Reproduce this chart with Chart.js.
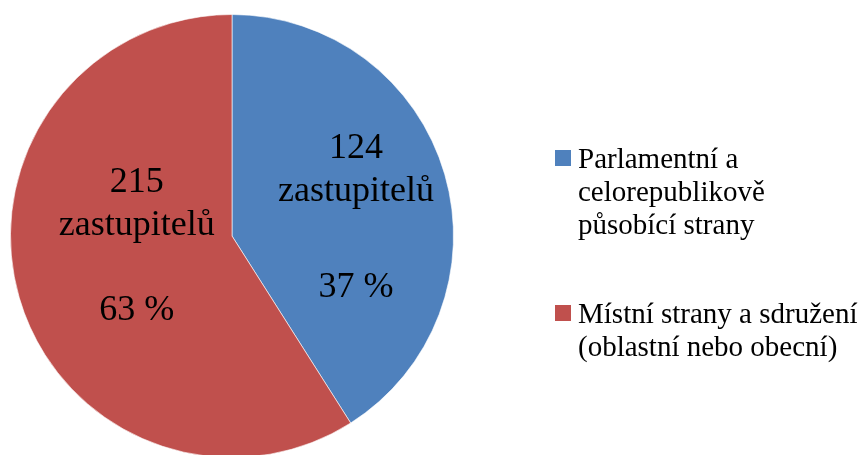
<!DOCTYPE html>
<html>
<head>
<meta charset="utf-8">
<script src="https://cdn.jsdelivr.net/npm/chart.js@4/dist/chart.umd.min.js"></script>
<style>
  html, body { margin: 0; padding: 0; background: #fff; overflow: hidden; }
  #wrap { position: relative; width: 862px; height: 462px; }
</style>
</head>
<body>
<div id="wrap"><canvas id="chart"></canvas></div>
<script>
// legend labels (one entry per slice, split into lines)
const categories = [
  ['Parlamentní a', 'celorepublikově', 'působící strany'],
  ['Místní strany a sdružení', '(oblastní nebo obecní)'],
];
// slice sizes as drawn in the picture (share of the circle, %)
const sliceShares = [41, 59];
// numbers printed inside the slices
const seatCounts = [124, 215];
const percentLabels = ['37 %', '63 %'];
const colors = ['#4F81BD', '#C0504D'];

const FONT = '"Liberation Serif", "Times New Roman", serif';

// text inside the slices; offsets as fractions of the radius from the centre
const sliceLabelLayout = [
  { fx: 0.56, lines: [-0.35, -0.16, 0.275] },
  { fx: -0.43, lines: [-0.2, -0.005, 0.38] },
];

const sliceLabels = {
  id: 'sliceLabels',
  afterDatasetsDraw(chart) {
    const { ctx } = chart;
    const arc = chart.getDatasetMeta(0).data[0];
    const cx = arc.x;
    const cy = arc.y;
    const r = arc.outerRadius;
    ctx.save();
    ctx.font = `36px ${FONT}`;
    ctx.fillStyle = '#000';
    ctx.textAlign = 'center';
    ctx.textBaseline = 'alphabetic';
    sliceLabelLayout.forEach((lay, i) => {
      const texts = [String(seatCounts[i]), 'zastupitelů', percentLabels[i]];
      texts.forEach((t, j) => {
        ctx.fillText(t, cx + lay.fx * r, cy + lay.lines[j] * r);
      });
    });
    ctx.restore();
  },
};

const sideLegend = {
  id: 'sideLegend',
  afterDraw(chart) {
    const { ctx } = chart;
    const left = 555;
    const lineH = 33;
    let baseline = 168;
    ctx.save();
    ctx.font = `29px ${FONT}`;
    ctx.textAlign = 'left';
    ctx.textBaseline = 'alphabetic';
    chart.data.labels.forEach((lines, i) => {
      ctx.fillStyle = colors[i];
      ctx.fillRect(left, baseline - 18, 16, 16);
      ctx.fillStyle = '#000';
      lines.forEach((line, j) => {
        ctx.fillText(line, left + 23, baseline + j * lineH);
      });
      baseline += 155;
    });
    ctx.restore();
  },
};

new Chart(document.getElementById('chart').getContext('2d'), {
  type: 'pie',
  data: {
    labels: categories,
    datasets: [
      {
        data: sliceShares,
        backgroundColor: colors,
        borderColor: 'rgba(255,255,255,0.6)',
        borderWidth: 1,
      },
    ],
  },
  options: {
    responsive: true,
    maintainAspectRatio: false,
    animation: false,
    layout: { padding: { left: 10, right: 408, top: 14, bottom: 4 } },
    plugins: {
      legend: { display: false },
      tooltip: { enabled: false },
    },
  },
  plugins: [sliceLabels, sideLegend],
});
</script>
</body>
</html>
